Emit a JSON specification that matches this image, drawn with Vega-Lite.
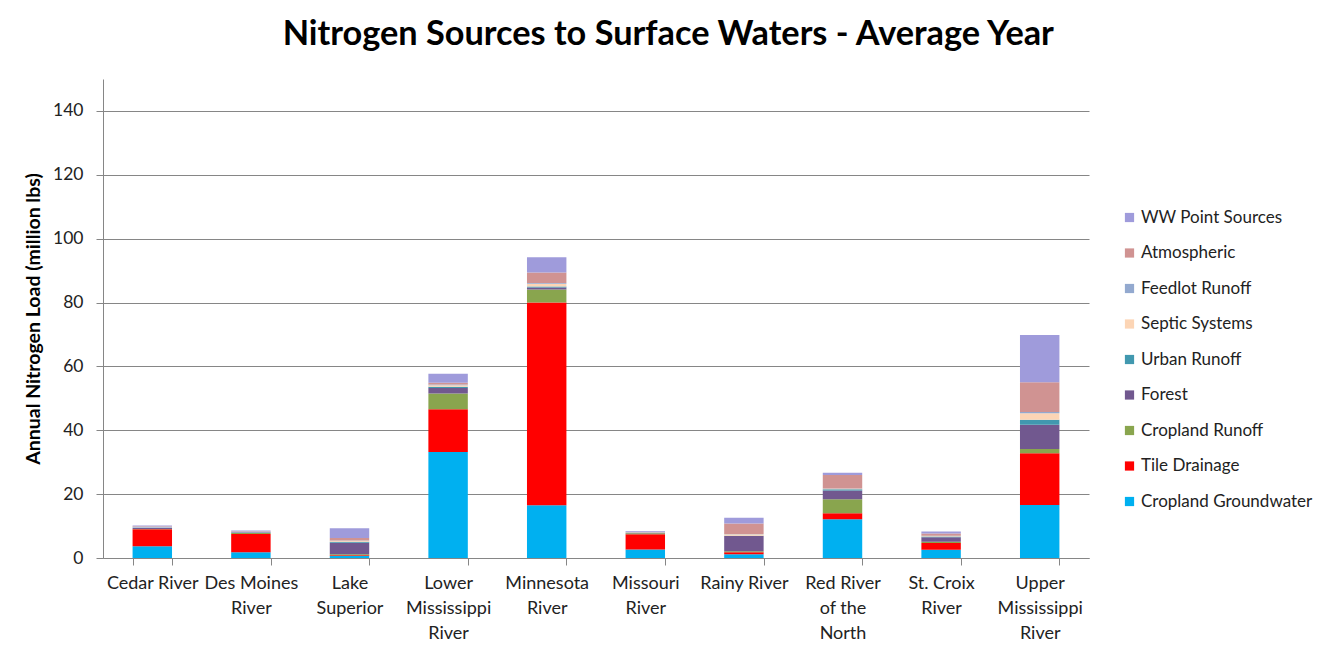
{
  "$schema": "https://vega.github.io/schema/vega-lite/v6.json",
  "autosize": "none",
  "width": 986,
  "height": 479,
  "padding": {"left": 103, "top": 79, "right": 241, "bottom": 91},
  "background": "white",
  "config": {
    "font": "Lato",
    "view": {"stroke": null}
  },
  "title": {
    "text": "Nitrogen Sources to Surface Waters - Average Year",
    "font": "Lato",
    "fontSize": 34.3,
    "fontWeight": "bold",
    "color": "#000000",
    "anchor": "middle",
    "frame": "bounds",
    "offset": 27
  },
  "data": {
    "values": [
      {"river": "Cedar River", "source": "Cropland Groundwater", "load": 3.7},
      {"river": "Cedar River", "source": "Tile Drainage", "load": 5.3},
      {"river": "Cedar River", "source": "Cropland Runoff", "load": 0.1},
      {"river": "Cedar River", "source": "Forest", "load": 0.3},
      {"river": "Cedar River", "source": "Urban Runoff", "load": 0.05},
      {"river": "Cedar River", "source": "Septic Systems", "load": 0.1},
      {"river": "Cedar River", "source": "Feedlot Runoff", "load": 0.2},
      {"river": "Cedar River", "source": "Atmospheric", "load": 0.2},
      {"river": "Cedar River", "source": "WW Point Sources", "load": 0.2},
      {"river": "Des Moines River", "source": "Cropland Groundwater", "load": 1.8},
      {"river": "Des Moines River", "source": "Tile Drainage", "load": 5.7},
      {"river": "Des Moines River", "source": "Cropland Runoff", "load": 0.3},
      {"river": "Des Moines River", "source": "Forest", "load": 0.2},
      {"river": "Des Moines River", "source": "Urban Runoff", "load": 0.05},
      {"river": "Des Moines River", "source": "Septic Systems", "load": 0.05},
      {"river": "Des Moines River", "source": "Feedlot Runoff", "load": 0.1},
      {"river": "Des Moines River", "source": "Atmospheric", "load": 0.2},
      {"river": "Des Moines River", "source": "WW Point Sources", "load": 0.2},
      {"river": "Lake Superior", "source": "Cropland Groundwater", "load": 0.6},
      {"river": "Lake Superior", "source": "Tile Drainage", "load": 0.3},
      {"river": "Lake Superior", "source": "Cropland Runoff", "load": 0.3},
      {"river": "Lake Superior", "source": "Forest", "load": 3.6},
      {"river": "Lake Superior", "source": "Urban Runoff", "load": 0.3},
      {"river": "Lake Superior", "source": "Septic Systems", "load": 0.3},
      {"river": "Lake Superior", "source": "Feedlot Runoff", "load": 0.1},
      {"river": "Lake Superior", "source": "Atmospheric", "load": 0.8},
      {"river": "Lake Superior", "source": "WW Point Sources", "load": 3.0},
      {"river": "Lower Mississippi River", "source": "Cropland Groundwater", "load": 33.2},
      {"river": "Lower Mississippi River", "source": "Tile Drainage", "load": 13.4},
      {"river": "Lower Mississippi River", "source": "Cropland Runoff", "load": 4.9},
      {"river": "Lower Mississippi River", "source": "Forest", "load": 1.7},
      {"river": "Lower Mississippi River", "source": "Urban Runoff", "load": 0.4},
      {"river": "Lower Mississippi River", "source": "Septic Systems", "load": 0.5},
      {"river": "Lower Mississippi River", "source": "Feedlot Runoff", "load": 0.2},
      {"river": "Lower Mississippi River", "source": "Atmospheric", "load": 0.6},
      {"river": "Lower Mississippi River", "source": "WW Point Sources", "load": 2.8},
      {"river": "Minnesota River", "source": "Cropland Groundwater", "load": 16.5},
      {"river": "Minnesota River", "source": "Tile Drainage", "load": 63.5},
      {"river": "Minnesota River", "source": "Cropland Runoff", "load": 4.1},
      {"river": "Minnesota River", "source": "Forest", "load": 0.6},
      {"river": "Minnesota River", "source": "Urban Runoff", "load": 0.3},
      {"river": "Minnesota River", "source": "Septic Systems", "load": 0.9},
      {"river": "Minnesota River", "source": "Feedlot Runoff", "load": 0.2},
      {"river": "Minnesota River", "source": "Atmospheric", "load": 3.3},
      {"river": "Minnesota River", "source": "WW Point Sources", "load": 4.8},
      {"river": "Missouri River", "source": "Cropland Groundwater", "load": 2.7},
      {"river": "Missouri River", "source": "Tile Drainage", "load": 4.75},
      {"river": "Missouri River", "source": "Cropland Runoff", "load": 0.3},
      {"river": "Missouri River", "source": "Forest", "load": 0.1},
      {"river": "Missouri River", "source": "Urban Runoff", "load": 0.05},
      {"river": "Missouri River", "source": "Septic Systems", "load": 0.05},
      {"river": "Missouri River", "source": "Feedlot Runoff", "load": 0.1},
      {"river": "Missouri River", "source": "Atmospheric", "load": 0.2},
      {"river": "Missouri River", "source": "WW Point Sources", "load": 0.2},
      {"river": "Rainy River", "source": "Cropland Groundwater", "load": 1.2},
      {"river": "Rainy River", "source": "Tile Drainage", "load": 0.6},
      {"river": "Rainy River", "source": "Cropland Runoff", "load": 0.3},
      {"river": "Rainy River", "source": "Forest", "load": 4.8},
      {"river": "Rainy River", "source": "Urban Runoff", "load": 0.1},
      {"river": "Rainy River", "source": "Septic Systems", "load": 0.4},
      {"river": "Rainy River", "source": "Feedlot Runoff", "load": 0.1},
      {"river": "Rainy River", "source": "Atmospheric", "load": 3.3},
      {"river": "Rainy River", "source": "WW Point Sources", "load": 1.8},
      {"river": "Red River of the North", "source": "Cropland Groundwater", "load": 12.1},
      {"river": "Red River of the North", "source": "Tile Drainage", "load": 1.9},
      {"river": "Red River of the North", "source": "Cropland Runoff", "load": 4.4},
      {"river": "Red River of the North", "source": "Forest", "load": 2.7},
      {"river": "Red River of the North", "source": "Urban Runoff", "load": 0.4},
      {"river": "Red River of the North", "source": "Septic Systems", "load": 0.2},
      {"river": "Red River of the North", "source": "Feedlot Runoff", "load": 0.1},
      {"river": "Red River of the North", "source": "Atmospheric", "load": 4.2},
      {"river": "Red River of the North", "source": "WW Point Sources", "load": 0.7},
      {"river": "St. Croix River", "source": "Cropland Groundwater", "load": 2.6},
      {"river": "St. Croix River", "source": "Tile Drainage", "load": 2.1},
      {"river": "St. Croix River", "source": "Cropland Runoff", "load": 0.4},
      {"river": "St. Croix River", "source": "Forest", "load": 1.4},
      {"river": "St. Croix River", "source": "Urban Runoff", "load": 0.2},
      {"river": "St. Croix River", "source": "Septic Systems", "load": 0.2},
      {"river": "St. Croix River", "source": "Feedlot Runoff", "load": 0.1},
      {"river": "St. Croix River", "source": "Atmospheric", "load": 0.7},
      {"river": "St. Croix River", "source": "WW Point Sources", "load": 0.6},
      {"river": "Upper Mississippi River", "source": "Cropland Groundwater", "load": 16.6},
      {"river": "Upper Mississippi River", "source": "Tile Drainage", "load": 16.2},
      {"river": "Upper Mississippi River", "source": "Cropland Runoff", "load": 1.3},
      {"river": "Upper Mississippi River", "source": "Forest", "load": 7.6},
      {"river": "Upper Mississippi River", "source": "Urban Runoff", "load": 1.6},
      {"river": "Upper Mississippi River", "source": "Septic Systems", "load": 2.0},
      {"river": "Upper Mississippi River", "source": "Feedlot Runoff", "load": 0.4},
      {"river": "Upper Mississippi River", "source": "Atmospheric", "load": 9.3},
      {"river": "Upper Mississippi River", "source": "WW Point Sources", "load": 14.8}
    ]
  },
  "transform": [
    {"calculate": "indexof(['Cropland Groundwater','Tile Drainage','Cropland Runoff','Forest','Urban Runoff','Septic Systems','Feedlot Runoff','Atmospheric','WW Point Sources'], datum.source)", "as": "stackOrder"}
  ],
  "mark": {"type": "bar"},
  "encoding": {
    "x": {
      "field": "river",
      "type": "nominal",
      "sort": null,
      "scale": {"paddingInner": 0.6, "paddingOuter": 0.3},
      "axis": {
        "title": null,
        "labelAngle": 0,
        "labelFont": "Lato",
        "labelFontSize": 18,
        "labelColor": "#222222",
        "labelLineHeight": 25,
        "labelPadding": 9,
        "labelLimit": 200,
        "labelExpr": "datum.label == 'Cedar River' ? 'Cedar River' : datum.label == 'Des Moines River' ? ['Des Moines', 'River'] : datum.label == 'Lake Superior' ? ['Lake', 'Superior'] : datum.label == 'Lower Mississippi River' ? ['Lower', 'Mississippi', 'River'] : datum.label == 'Minnesota River' ? ['Minnesota', 'River'] : datum.label == 'Missouri River' ? ['Missouri', 'River'] : datum.label == 'Rainy River' ? 'Rainy River' : datum.label == 'Red River of the North' ? ['Red River', 'of the', 'North'] : datum.label == 'St. Croix River' ? ['St. Croix', 'River'] : datum.label == 'Upper Mississippi River' ? ['Upper', 'Mississippi', 'River'] : ''",
        "tickBand": "extent",
        "tickSize": 7,
        "tickColor": "#868686",
        "domainColor": "#868686",
        "grid": false
      }
    },
    "y": {
      "field": "load",
      "type": "quantitative",
      "stack": "zero",
      "scale": {"domain": [0, 150], "nice": false},
      "axis": {
        "title": "Annual Nitrogen Load (million lbs)",
        "titleFont": "Lato",
        "titleFontSize": 19.5,
        "titleFontWeight": "bold",
        "titleColor": "#000000",
        "titlePadding": 9,
        "values": [0, 20, 40, 60, 80, 100, 120, 140],
        "labelFont": "Lato",
        "labelFontSize": 17.5,
        "labelColor": "#222222",
        "labelPadding": 13,
        "tickSize": 7,
        "tickColor": "#868686",
        "domainColor": "#868686",
        "gridColor": "#868686",
        "gridWidth": 1
      }
    },
    "color": {
      "field": "source",
      "type": "nominal",
      "scale": {
        "domain": ["WW Point Sources", "Atmospheric", "Feedlot Runoff", "Septic Systems", "Urban Runoff", "Forest", "Cropland Runoff", "Tile Drainage", "Cropland Groundwater"],
        "range": ["#9F9BDB", "#D09392", "#93A9CF", "#FCD5B5", "#4198AF", "#71588F", "#89A54E", "#FF0000", "#00B0F0"]
      },
      "legend": {
        "title": null,
        "orient": "none",
        "legendX": 1018,
        "legendY": 130,
        "symbolType": "square",
        "symbolSize": 85,
        "symbolStrokeWidth": 0,
        "labelFont": "Lato",
        "labelFontSize": 17,
        "labelColor": "#222222",
        "labelOffset": 3,
        "rowPadding": 17.5,
        "labelLimit": 250
      }
    },
    "order": {"field": "stackOrder", "type": "quantitative", "sort": "ascending"}
  }
}
